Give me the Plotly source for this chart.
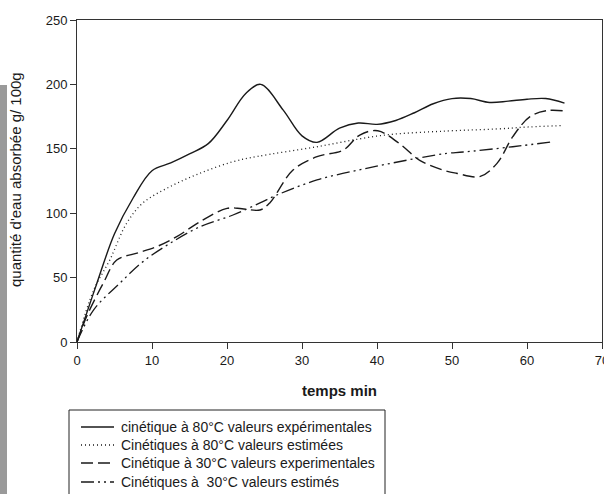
"""Cinétique d'absorption d'eau à 80°C et 30°C."""

import plotly.graph_objects as go

# 80°C, valeurs expérimentales
t_80_exp = [0, 2.5, 5, 7.5, 10, 12.5, 15, 17.5, 20, 22.5, 24.5, 27.5, 30,
            32, 35, 37.5, 40, 42.5, 45, 47.5, 50, 52.5, 55, 57.5, 60, 62.5, 65]
v_80_exp = [0, 43, 84, 112, 133, 139, 146, 154, 172, 193, 200, 180, 160,
            155, 166, 170, 169, 172, 178, 185, 189, 189, 186, 187, 188.5, 189, 185.5]

# 80°C, valeurs estimées
t_80_est = [0, 2.2, 4.4, 6.6, 8.8, 12.4, 16.4, 20.8, 24, 32, 40.8, 49.3, 56, 60.4, 64.6]
v_80_est = [0, 40, 64, 92, 108, 120.6, 131, 140, 144, 151.6, 160.5, 163.8, 165.4, 167, 168]

# 30°C, valeurs expérimentales
t_30_exp = [0, 1.3, 3.5, 5.3, 8, 10.6, 13.3, 16.4, 20, 22, 24.4, 25.7, 28.8, 32,
            35.5, 37.7, 40.1, 43, 45.7, 48.8, 50.6, 53.7, 56, 58.1, 60.4, 62.6, 65.2]
v_30_exp = [0, 20, 45.6, 63.6, 69, 74, 81.8, 93.4, 103.8, 103.5, 102.5, 108, 133.5, 143.9,
            149, 160.7, 164, 154, 141, 133.5, 131, 128.4, 138.7, 159.4, 175, 179.6, 179.3]

# 30°C, valeurs estimées
t_30_est = [0, 2.2, 5.7, 8.8, 12.4, 16.4, 20.8, 24.4, 26.6, 32, 38.6, 45.3, 49.3, 51.5, 58.1, 63.5]
v_30_est = [0, 24.8, 45.6, 62.4, 76.6, 89.5, 98.6, 108, 114, 125.8, 134.8, 142.6, 146.5, 147.5, 151.6, 155.5]

series_names = [
    "cinétique à 80°C valeurs expérimentales",
    "Cinétiques à 80°C valeurs estimées",
    "Cinétique à 30°C valeurs experimentales",
    "Cinétiques à  30°C valeurs estimés",
]

x_ticks = [0, 10, 20, 30, 40, 50, 60, 70]
y_ticks = [0, 50, 100, 150, 200, 250]

FONT = "Liberation Sans, Arial, sans-serif"
INK = "#1a1a1a"
DASHES = ["solid", "1px,3px", "12px,5px", "13px,4px,2px,4px,2px,4px"]
WIDTHS = [1.4, 1.3, 1.4, 1.3]

# zone de tracé en pixels (pour placer la légende dessinée à la main)
W, H = 604, 494
L, R, T, B = 77, 2, 20, 152
PW, PH = W - L - R, H - T - B


def px_x(px):
    return (px - L) / PW


def px_y(py):
    return (H - B - py) / PH


fig = go.Figure()

data = [(t_80_exp, v_80_exp), (t_80_est, v_80_est),
        (t_30_exp, v_30_exp), (t_30_est, v_30_est)]
for (tx, vy), name, dash, width in zip(data, series_names, DASHES, WIDTHS):
    fig.add_trace(go.Scatter(
        x=tx, y=vy, mode="lines", line_shape="spline",
        name=name,
        line={"color": INK, "width": width, "dash": dash},
        showlegend=False,
    ))

axis_common = dict(
    showgrid=False,
    zeroline=False,
    showline=True,
    linecolor="#333",
    linewidth=1,
    mirror=True,
    ticks="outside",
    ticklen=6,
    tickcolor="#333",
    ticklabeloverflow="allow",
    tickfont={"family": FONT, "size": 13, "color": INK},
)

fig.update_xaxes(range=[0, 70], tickvals=x_ticks, **axis_common)
fig.update_yaxes(range=[0, 250], tickvals=y_ticks, **axis_common)

fig.add_annotation(
    text="quantité d'eau absorbée g/ 100g",
    xref="paper", yref="paper", x=px_x(15), y=px_y(180),
    textangle=-90, showarrow=False, xanchor="center", yanchor="middle",
    font={"family": FONT, "size": 15, "color": INK},
)
fig.add_annotation(
    text="temps min",
    xref="paper", yref="paper", x=px_x(339), y=px_y(390),
    showarrow=False, xanchor="center", yanchor="middle",
    font={"family": FONT, "size": 15, "color": INK, "weight": "bold"},
)

# bande grise du scan à gauche
fig.add_shape(
    type="rect", xref="paper", yref="paper",
    x0=px_x(0), x1=px_x(7), y0=px_y(500), y1=px_y(85),
    fillcolor="#9a9a9a", line={"width": 0}, layer="below",
)

# légende encadrée
fig.add_shape(
    type="rect", xref="paper", yref="paper",
    x0=px_x(69), x1=px_x(385), y0=px_y(500), y1=px_y(410),
    fillcolor="white", line={"color": "#222", "width": 1},
)
row_y = [427, 445, 463, 482]
for ry, name, dash, width in zip(row_y, series_names, DASHES, WIDTHS):
    fig.add_shape(
        type="line", xref="paper", yref="paper",
        x0=px_x(81), x1=px_x(114), y0=px_y(ry), y1=px_y(ry),
        line={"color": INK, "width": width, "dash": dash},
    )
    fig.add_annotation(
        text=name, xref="paper", yref="paper",
        x=px_x(119), y=px_y(ry), xanchor="left", yanchor="middle",
        showarrow=False,
        font={"family": FONT, "size": 14, "color": INK},
    )

fig.update_layout(
    width=W,
    height=H,
    margin={"l": L, "r": R, "t": T, "b": B, "autoexpand": False},
    paper_bgcolor="white",
    plot_bgcolor="white",
    showlegend=False,
)

# la page a une marge de 8 px par défaut : on la retire
fig.write_html(
    "out.html",
    config={"displayModeBar": False},
    post_script="document.body.style.margin = '0';",
)
